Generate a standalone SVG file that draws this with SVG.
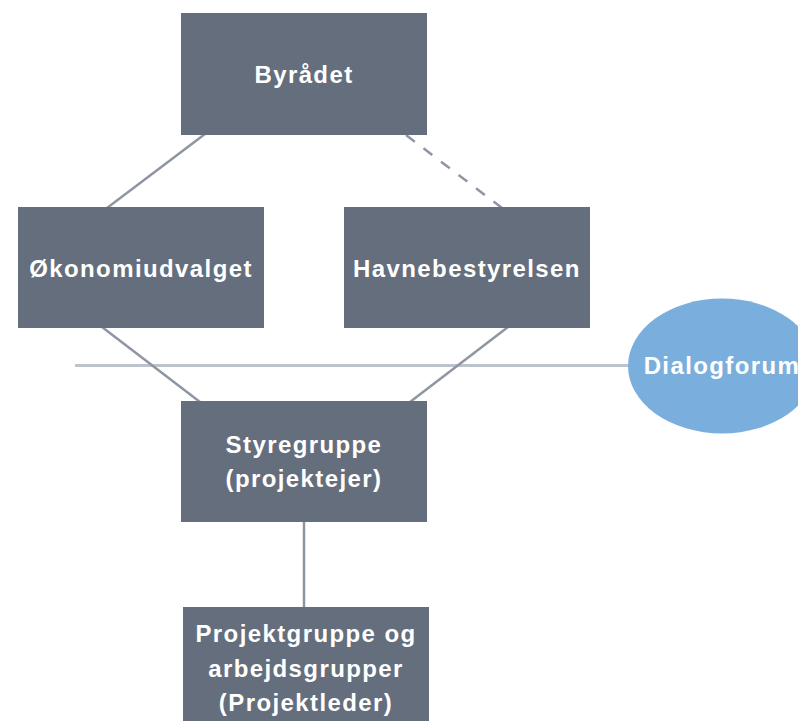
<svg xmlns="http://www.w3.org/2000/svg" width="798" height="721" viewBox="0 0 798 721">
<style>
.box{fill:#646e7c}
.lbl{font-family:"Liberation Sans",Arial,sans-serif;font-weight:bold;font-size:24px;letter-spacing:1.4px;fill:#ffffff;text-anchor:middle}
.conn{stroke:#8e96a3;stroke-width:2.5;fill:none}
.dash{stroke-dasharray:11 11}
.axis{stroke:#bcc3cb;stroke-width:3;fill:none}
</style>
<rect width="798" height="721" fill="#ffffff"/>
<g id="connectors">
<line class="axis" x1="75" y1="365.5" x2="640" y2="365.5"/>
<line class="conn" x1="205" y1="134" x2="107" y2="208"/>
<line class="conn dash" x1="406" y1="135" x2="502" y2="208"/>
<line class="conn" x1="102" y1="327" x2="200" y2="402"/>
<line class="conn" x1="508" y1="327" x2="410" y2="402"/>
<line class="conn" x1="304" y1="521" x2="304" y2="608"/>
</g>
<g id="byraadet">
<rect class="box" x="181" y="13" width="246" height="122"/>
<text class="lbl" x="304" y="83">Byrådet</text>
</g>
<g id="oekonomiudvalget">
<rect class="box" x="18" y="207" width="246" height="121"/>
<text class="lbl" x="141" y="277">Økonomiudvalget</text>
</g>
<g id="havnebestyrelsen">
<rect class="box" x="344" y="207" width="246" height="121"/>
<text class="lbl" x="467" y="277">Havnebestyrelsen</text>
</g>
<g id="dialogforum">
<ellipse cx="722" cy="366" rx="94" ry="67.5" fill="#7aaedc"/>
<text class="lbl" x="722" y="374">Dialogforum</text>
</g>
<g id="styregruppe">
<rect class="box" x="181" y="401" width="246" height="121"/>
<text class="lbl" x="304" y="453">Styregruppe</text>
<text class="lbl" x="304" y="487">(projektejer)</text>
</g>
<g id="projektgruppe">
<rect class="box" x="183" y="607" width="246" height="122"/>
<text class="lbl" x="306" y="642">Projektgruppe og</text>
<text class="lbl" x="306" y="677">arbejdsgrupper</text>
<text class="lbl" x="306" y="711">(Projektleder)</text>
</g>
</svg>
